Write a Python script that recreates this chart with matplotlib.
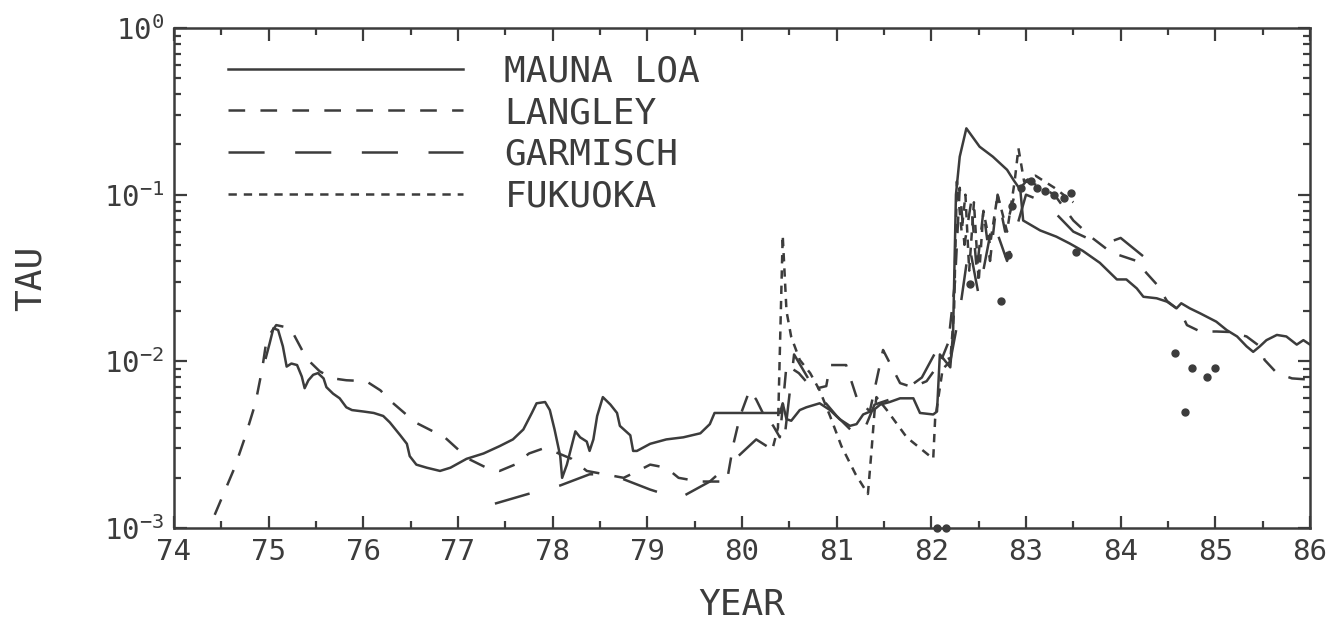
import matplotlib
matplotlib.use("Agg")
import matplotlib.pyplot as plt
from matplotlib.ticker import FixedLocator, FixedFormatter, LogLocator, NullFormatter, MultipleLocator

# ---- data -------------------------------------------------------------
mauna_loa_year = [74.97, 75.01, 75.05, 75.10, 75.15, 75.19, 75.24, 75.30, 75.35, 75.38,
                  75.42, 75.47, 75.52, 75.58, 75.61, 75.68, 75.75, 75.82, 75.88, 76.00,
                  76.11, 76.21, 76.28, 76.39, 76.46, 76.49, 76.56, 76.67, 76.81, 76.92,
                  77.09, 77.27, 77.44, 77.58, 77.69, 77.78, 77.83, 77.92, 77.97, 78.02,
                  78.08, 78.10, 78.15, 78.20, 78.24, 78.29, 78.36, 78.39, 78.43, 78.47,
                  78.53, 78.61, 78.68, 78.71, 78.82, 78.85, 78.89, 79.03, 79.20, 79.38,
                  79.56, 79.66, 79.71, 79.80, 80.40, 80.43, 80.47, 80.52, 80.61, 80.68,
                  80.82, 80.93, 81.03, 81.14, 81.21, 81.28, 81.39, 81.46, 81.56, 81.67,
                  81.81, 81.88, 82.02, 82.06, 82.09, 82.12, 82.20, 82.23, 82.26, 82.30,
                  82.37, 82.51, 82.65, 82.80, 82.87, 82.94, 82.97, 83.15, 83.32, 83.46,
                  83.60, 83.78, 83.96, 84.06, 84.17, 84.24, 84.38, 84.49, 84.59, 84.64,
                  84.73, 84.84, 85.01, 85.12, 85.23, 85.33, 85.40, 85.47, 85.54, 85.65,
                  85.75, 85.86, 85.93, 86.00]
mauna_loa_tau = [0.0105, 0.0128, 0.0158, 0.0154, 0.0123, 0.0093, 0.0097, 0.0095, 0.0081, 0.0069,
                 0.0077, 0.0083, 0.0085, 0.0079, 0.0070, 0.0064, 0.0060, 0.0053, 0.0051, 0.0050,
                 0.0049, 0.0047, 0.0043, 0.0036, 0.0032, 0.0027, 0.0024, 0.0023, 0.0022, 0.0023,
                 0.0026, 0.0028, 0.0031, 0.0034, 0.0039, 0.0049, 0.0056, 0.0057, 0.0051, 0.0039,
                 0.0027, 0.0020, 0.0024, 0.0031, 0.0038, 0.0035, 0.0033, 0.0029, 0.0034, 0.0047,
                 0.0061, 0.0055, 0.0049, 0.0041, 0.0036, 0.0029, 0.0029, 0.0032, 0.0034, 0.0035,
                 0.0037, 0.0042, 0.0049, 0.0049, 0.0049, 0.0056, 0.0045, 0.0044, 0.0051, 0.0053,
                 0.0056, 0.0051, 0.0045, 0.0041, 0.0042, 0.0048, 0.0051, 0.0055, 0.0057, 0.0060,
                 0.0060, 0.0049, 0.0048, 0.0050, 0.0110, 0.0105, 0.0092, 0.0150, 0.1000, 0.1690,
                 0.2500, 0.1940, 0.1690, 0.1410, 0.1220, 0.1070, 0.0700, 0.0610, 0.0560, 0.0510,
                 0.0460, 0.0390, 0.0310, 0.0310, 0.0274, 0.0244, 0.0239, 0.0228, 0.0208, 0.0223,
                 0.0208, 0.0194, 0.0173, 0.0154, 0.0141, 0.0123, 0.0114, 0.0123, 0.0134, 0.0144,
                 0.0141, 0.0126, 0.0134, 0.0126]

langley_year = [74.43, 74.64, 74.75, 74.86, 74.93, 74.98, 75.08, 75.23, 75.40, 75.54,
                75.68, 75.82, 76.03, 76.18, 76.30, 76.55, 76.86, 77.11, 77.30, 77.44,
                77.60, 77.75, 77.90, 78.00, 78.20, 78.36, 78.55, 78.75, 78.90, 79.03,
                79.20, 79.33, 79.55, 79.84, 79.91, 79.98, 80.08, 80.15, 80.22, 80.33,
                80.40, 80.47, 80.60, 80.75, 80.89, 80.93, 81.10, 81.21, 81.35, 81.49,
                81.67, 81.80, 81.95, 82.10, 82.18, 82.25, 82.30, 82.35, 82.42, 82.48,
                82.55, 82.62, 82.70, 82.78, 82.88, 83.00, 83.10, 83.30, 83.50, 83.70,
                83.90, 84.17, 84.27, 84.38, 84.49, 84.63, 84.70, 84.84, 85.01, 85.15,
                85.33, 85.47, 85.52, 85.65, 85.81, 85.95, 86.00]
langley_tau = [0.0012, 0.0023, 0.0035, 0.0056, 0.0089, 0.0137, 0.0165, 0.0158, 0.0104, 0.0087,
               0.0079, 0.0077, 0.0076, 0.0067, 0.0057, 0.0043, 0.0035, 0.0026, 0.0023, 0.0022,
               0.0024, 0.0028, 0.0030, 0.0029, 0.0026, 0.0022, 0.0021, 0.0020, 0.0022, 0.0024,
               0.0023, 0.0020, 0.0019, 0.0019, 0.0032, 0.0047, 0.0067, 0.0059, 0.0049, 0.0041,
               0.0035, 0.0095, 0.0085, 0.0068, 0.0071, 0.0095, 0.0095, 0.0061, 0.0050, 0.0117,
               0.0074, 0.0070, 0.0076, 0.0100, 0.0130, 0.0300, 0.1100, 0.0500, 0.0900, 0.0350,
               0.0800, 0.0400, 0.1000, 0.0600, 0.1000, 0.1200, 0.1150, 0.1000, 0.0700, 0.0550,
               0.0450, 0.0400, 0.0340, 0.0290, 0.0230, 0.0200, 0.0165, 0.0151, 0.0151, 0.0150,
               0.0141, 0.0123, 0.0102, 0.0085, 0.0079, 0.0078, 0.0070]

garmisch_year = [77.39, 77.74, 78.08, 78.39, 78.50, 78.71, 79.03, 79.33, 79.66, 79.93,
                 80.15, 80.30, 80.45, 80.55, 80.78, 81.00, 81.25, 81.40, 81.60, 81.90,
                 82.10, 82.20, 82.30, 82.40, 82.50, 82.65, 82.80, 83.00, 83.20, 83.50,
                 83.80, 84.00, 84.30]
garmisch_tau = [0.0014, 0.0016, 0.0018, 0.0021, 0.0021, 0.0020, 0.0017, 0.0015, 0.0019, 0.0026,
                0.0034, 0.0030, 0.0035, 0.0110, 0.0066, 0.0047, 0.0034, 0.0055, 0.0060, 0.0080,
                0.0130, 0.0100, 0.0200, 0.0500, 0.0250, 0.0700, 0.0400, 0.1000, 0.0900, 0.0600,
                0.0500, 0.0550, 0.0400]

fukuoka_year = [80.33, 80.38, 80.43, 80.47, 80.52, 80.61, 80.72, 80.82, 80.93, 81.05,
                81.20, 81.33, 81.37, 81.40, 81.42, 81.53, 81.74, 82.02, 82.04, 82.12,
                82.20, 82.24, 82.27, 82.32, 82.36, 82.40, 82.45, 82.50, 82.55, 82.62,
                82.70, 82.80, 82.88, 82.92, 82.98, 83.10, 83.30, 83.50]
fukuoka_tau = [0.0031, 0.0040, 0.0570, 0.0200, 0.0140, 0.0102, 0.0085, 0.0067, 0.0047, 0.0031,
               0.0021, 0.0016, 0.0030, 0.0050, 0.0061, 0.0051, 0.0035, 0.0026, 0.0045, 0.0090,
               0.0100, 0.0200, 0.1200, 0.0600, 0.1000, 0.0350, 0.0900, 0.0300, 0.0800, 0.0500,
               0.1000, 0.0600, 0.1200, 0.1900, 0.1200, 0.1300, 0.1100, 0.0900]

point_year = [82.06, 82.16, 82.41, 82.74, 82.81, 82.85, 82.95, 83.05, 83.12, 83.20,
              83.30, 83.40, 83.48, 83.53, 84.57, 84.68, 84.75, 84.91, 85.00]
point_tau = [0.0010, 0.0010, 0.0290, 0.0230, 0.0435, 0.0850, 0.1100, 0.1200, 0.1100, 0.1050,
             0.1000, 0.0950, 0.1020, 0.0450, 0.0112, 0.0050, 0.0091, 0.0081, 0.0091]

series_labels = ["MAUNA LOA", "LANGLEY", "GARMISCH", "FUKUOKA"]
year_ticks = list(range(74, 87))
tau_ticks = [1e-3, 1e-2, 1e-1, 1e0]
tau_tick_labels = [r"$10^{-3}$", r"$10^{-2}$", r"$10^{-1}$", r"$10^{0}$"]

# ---- style ------------------------------------------------------------
ink = "#3c3c3c"
plt.rcParams["font.family"] = ["DejaVu Sans Mono", "DejaVu Sans"]
plt.rcParams["mathtext.default"] = "regular"
plt.rcParams["lines.scale_dashes"] = False

fig = plt.figure(figsize=(13.37, 6.25), dpi=100)
ax = fig.add_axes([174 / 1337, 97 / 625, 1136 / 1337, 500 / 625])

lw = 1.8
ax.plot(mauna_loa_year, mauna_loa_tau, color=ink, lw=lw, ls="-", label=series_labels[0])
ax.plot(langley_year, langley_tau, color=ink, lw=lw, ls=(0, (12, 11)), label=series_labels[1])
ax.plot(garmisch_year, garmisch_tau, color=ink, lw=lw, ls=(0, (26, 22)), label=series_labels[2])
ax.plot(fukuoka_year, fukuoka_tau, color=ink, lw=lw, ls=(0, (6, 5)), label=series_labels[3])
ax.plot(point_year, point_tau, ls="none", marker="o", ms=5, color=ink, clip_on=False)

ax.set_yscale("log")
ax.set_xlim(74, 86)
ax.set_ylim(1e-3, 1e0)

ax.xaxis.set_major_locator(FixedLocator(year_ticks))
ax.xaxis.set_minor_locator(MultipleLocator(0.5))
ax.set_xticklabels([str(y) for y in year_ticks])
ax.yaxis.set_major_locator(FixedLocator(tau_ticks))
ax.yaxis.set_major_formatter(FixedFormatter(tau_tick_labels))
ax.yaxis.set_minor_locator(LogLocator(base=10, subs=range(2, 10)))
ax.yaxis.set_minor_formatter(NullFormatter())

ax.tick_params(which="both", direction="in", top=True, right=True, color=ink,
               labelcolor=ink, width=1.6)
ax.tick_params(which="major", length=9, labelsize=21, pad=7)
ax.tick_params(which="minor", length=5)
for s in ax.spines.values():
    s.set_color(ink)
    s.set_linewidth(1.8)

ax.set_xlabel("YEAR", fontsize=26, color=ink, labelpad=16)
ax.set_ylabel("TAU", fontsize=26, color=ink, labelpad=40)

leg = ax.legend(loc="upper left", bbox_to_anchor=(0.035, 0.976), frameon=False,
                fontsize=26, handlelength=6.5, handletextpad=1.15, labelspacing=0.21,
                borderaxespad=0)
for t in leg.get_texts():
    t.set_color(ink)

fig.savefig("out.png", dpi=100, facecolor="white")
